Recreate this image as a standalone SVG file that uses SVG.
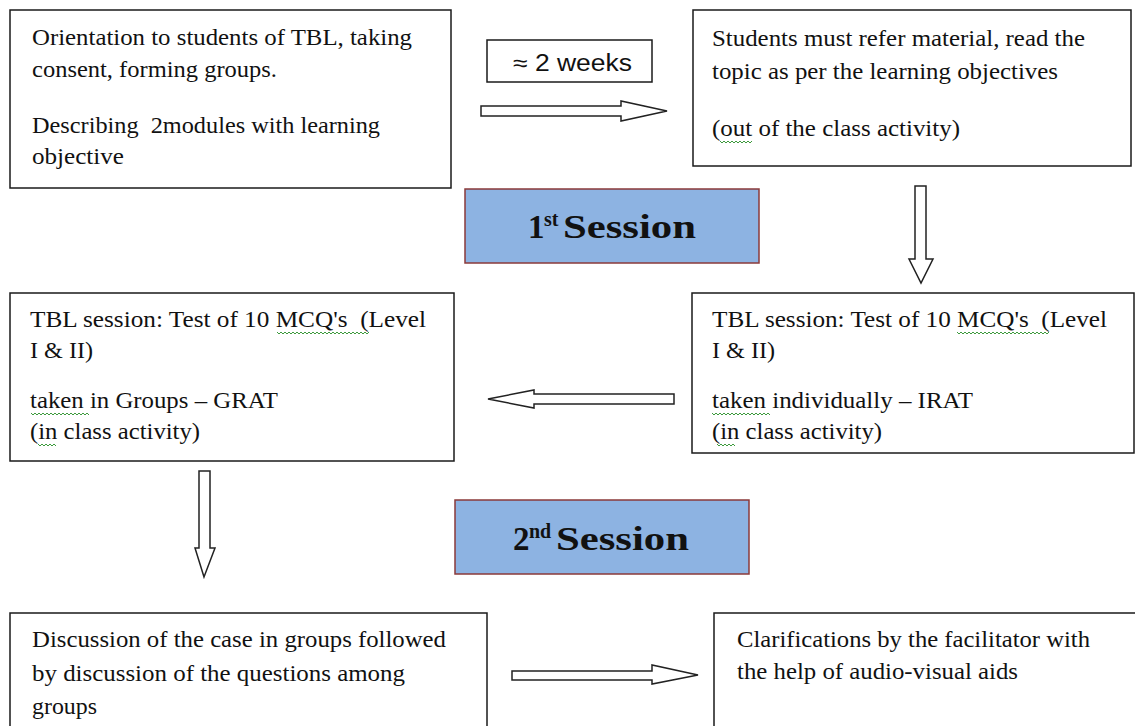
<svg xmlns="http://www.w3.org/2000/svg" width="1135" height="726" viewBox="0 0 1135 726">
<defs>
<style>
.box{fill:#fff;stroke:#1a1a1a;stroke-width:1.5}
.sess{fill:#8DB3E2;stroke:#8B3A3A;stroke-width:1.5}
.t{font-family:"Liberation Serif","Times New Roman",serif;font-size:24px;fill:#111}
.s{font-family:"Liberation Serif","Times New Roman",serif;font-size:33px;font-weight:bold;fill:#111}
.sup{font-family:"Liberation Serif","Times New Roman",serif;font-size:20px;font-weight:bold;fill:#111}
.w{font-family:"Liberation Sans",Arial,sans-serif;font-size:23px;fill:#111}
.arr{fill:#fff;stroke:#222;stroke-width:1.5}
.sq{fill:none;stroke:#3c9a3c;stroke-width:1}
</style>
</defs>
<rect width="1135" height="726" fill="#fff"/>

<g id="node-orientation">
<rect class="box" x="10" y="10" width="441" height="178"/>
<text class="t" x="32" y="45" textLength="380" lengthAdjust="spacingAndGlyphs">Orientation to students of TBL, taking</text>
<text class="t" x="32" y="77" textLength="245" lengthAdjust="spacingAndGlyphs">consent, forming groups.</text>
<text class="t" x="32" y="133" textLength="348" lengthAdjust="spacingAndGlyphs">Describing&#160; 2modules with learning</text>
<text class="t" x="32" y="164" textLength="92" lengthAdjust="spacingAndGlyphs">objective</text>
</g>

<g id="node-weeks">
<rect class="box" x="487" y="40" width="165" height="42"/>
<text class="w" x="513" y="71" textLength="119" lengthAdjust="spacingAndGlyphs">≈ 2 weeks</text>
</g>

<g id="node-refer">
<rect class="box" x="693" y="10" width="438" height="156"/>
<text class="t" x="712" y="46" textLength="373" lengthAdjust="spacingAndGlyphs">Students must refer material, read the</text>
<text class="t" x="712" y="79" textLength="346" lengthAdjust="spacingAndGlyphs">topic as per the learning objectives</text>
<text class="t" x="712" y="136" textLength="248" lengthAdjust="spacingAndGlyphs">(out of the class activity)</text>
<path class="sq" d="M720 141 l2 2 l2 -2 l2 2 l2 -2 l2 2 l2 -2 l2 2 l2 -2 l2 2 l2 -2 l2 2 l2 -2 l2 2 l2 -2 l2 2 l2 -2"/>
</g>

<g id="node-session1">
<rect class="sess" x="465" y="189" width="294" height="74"/>
<text class="s" x="528" y="238">1</text>
<text class="sup" x="544" y="226">st</text>
<text class="s" x="563" y="238" textLength="133" lengthAdjust="spacingAndGlyphs">Session</text>
</g>

<g id="node-grat">
<rect class="box" x="10" y="293" width="444" height="168"/>
<text class="t" x="30" y="327" textLength="396" lengthAdjust="spacingAndGlyphs">TBL session: Test of 10 MCQ's&#160; (Level</text>
<text class="t" x="30" y="358" textLength="63" lengthAdjust="spacingAndGlyphs">I &amp; II)</text>
<text class="t" x="30" y="408" textLength="248" lengthAdjust="spacingAndGlyphs">taken in Groups – GRAT</text>
<text class="t" x="30" y="439" textLength="170" lengthAdjust="spacingAndGlyphs">(in class activity)</text>
<path class="sq" d="M277 332 l2 2 l2 -2 l2 2 l2 -2 l2 2 l2 -2 l2 2 l2 -2 l2 2 l2 -2 l2 2 l2 -2 l2 2 l2 -2 l2 2 l2 -2 l2 2 l2 -2 l2 2 l2 -2 l2 2 l2 -2 l2 2 l2 -2 l2 2 l2 -2 l2 2 l2 -2 l2 2 l2 -2 l2 2 l2 -2 l2 2 l2 -2 l2 2 l2 -2 l2 2 l2 -2 l2 2 l2 -2 l2 2 l2 -2 l2 2 l2 -2 l2 2 l2 -2"/>
<path class="sq" d="M31 413 l2 2 l2 -2 l2 2 l2 -2 l2 2 l2 -2 l2 2 l2 -2 l2 2 l2 -2 l2 2 l2 -2 l2 2 l2 -2 l2 2 l2 -2 l2 2 l2 -2 l2 2 l2 -2 l2 2 l2 -2 l2 2 l2 -2 l2 2 l2 -2 l2 2 l2 -2 l2 2"/>
<path class="sq" d="M38 444 l2 2 l2 -2 l2 2 l2 -2 l2 2 l2 -2 l2 2 l2 -2 l2 2"/>
</g>

<g id="node-irat">
<rect class="box" x="692" y="293" width="442" height="160"/>
<text class="t" x="712" y="327" textLength="395" lengthAdjust="spacingAndGlyphs">TBL session: Test of 10 MCQ's&#160; (Level</text>
<text class="t" x="712" y="358" textLength="63" lengthAdjust="spacingAndGlyphs">I &amp; II)</text>
<text class="t" x="712" y="408" textLength="261" lengthAdjust="spacingAndGlyphs">taken individually – IRAT</text>
<text class="t" x="712" y="439" textLength="170" lengthAdjust="spacingAndGlyphs">(in class activity)</text>
<path class="sq" d="M957 332 l2 2 l2 -2 l2 2 l2 -2 l2 2 l2 -2 l2 2 l2 -2 l2 2 l2 -2 l2 2 l2 -2 l2 2 l2 -2 l2 2 l2 -2 l2 2 l2 -2 l2 2 l2 -2 l2 2 l2 -2 l2 2 l2 -2 l2 2 l2 -2 l2 2 l2 -2 l2 2 l2 -2 l2 2 l2 -2 l2 2 l2 -2 l2 2 l2 -2 l2 2 l2 -2 l2 2 l2 -2 l2 2 l2 -2 l2 2 l2 -2 l2 2 l2 -2"/>
<path class="sq" d="M712 413 l2 2 l2 -2 l2 2 l2 -2 l2 2 l2 -2 l2 2 l2 -2 l2 2 l2 -2 l2 2 l2 -2 l2 2 l2 -2 l2 2 l2 -2 l2 2 l2 -2 l2 2 l2 -2 l2 2 l2 -2 l2 2 l2 -2 l2 2 l2 -2 l2 2 l2 -2 l2 2"/>
<path class="sq" d="M717 444 l2 2 l2 -2 l2 2 l2 -2 l2 2 l2 -2 l2 2 l2 -2 l2 2"/>
</g>

<g id="node-session2">
<rect class="sess" x="455" y="500" width="294" height="74"/>
<text class="s" x="513" y="550">2</text>
<text class="sup" x="529" y="538">nd</text>
<text class="s" x="556" y="550" textLength="133" lengthAdjust="spacingAndGlyphs">Session</text>
</g>

<g id="node-discussion">
<rect class="box" x="10" y="613" width="477" height="130"/>
<text class="t" x="32" y="647" textLength="414" lengthAdjust="spacingAndGlyphs">Discussion of the case in groups followed</text>
<text class="t" x="32" y="681" textLength="373" lengthAdjust="spacingAndGlyphs">by discussion of the questions among</text>
<text class="t" x="32" y="714" textLength="65" lengthAdjust="spacingAndGlyphs">groups</text>
</g>

<g id="node-clarifications">
<rect class="box" x="714" y="613" width="432" height="130"/>
<text class="t" x="737" y="647" textLength="353" lengthAdjust="spacingAndGlyphs">Clarifications by the facilitator with</text>
<text class="t" x="737" y="679" textLength="281" lengthAdjust="spacingAndGlyphs">the help of audio-visual aids</text>
</g>

<g id="connectors">
<polygon class="arr" points="481,106 621,106 621,101 667,111 621,121 621,116 481,116"/>
<polygon class="arr" points="915,186 926,186 926,259 933,259 921,283 909,259 915,259"/>
<polygon class="arr" points="674,394 534,394 534,390 488,399 534,408 534,404 674,404"/>
<polygon class="arr" points="199,471 210,471 210,548 215,548 204,577 195,548 199,548"/>
<polygon class="arr" points="512,671 652,671 652,665 698,675 652,684 652,680 512,680"/>
</g>
</svg>
